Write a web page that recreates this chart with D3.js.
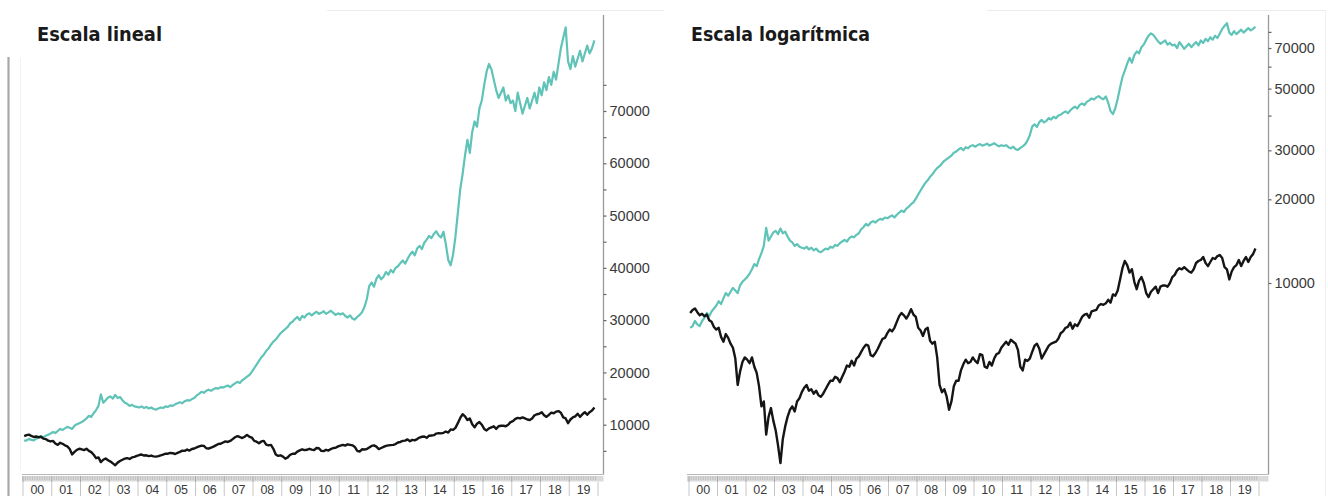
<!DOCTYPE html>
<html>
<head>
<meta charset="utf-8">
<script src="https://cdn.jsdelivr.net/npm/d3@7"></script>
<style>
  body { margin: 0; background: #fff; }
  svg { display: block; }
</style>
</head>
<body>
<svg id="chart" width="1328" height="496"></svg>
<script>
// Year labels along the bottom band
const yearLabels = ["00","01","02","03","04","05","06","07","08","09",
                    "10","11","12","13","14","15","16","17","18","19"];
const firstYear = 2000;

// Monthly closes, Jan 2000 – Nov 2019: price index (black)
const priceIndex = [
  7800, 8000, 8100, 7850, 7650, 7750, 7600, 7700, 7350, 7250, 6950, 6800,
  6900, 6400, 6150, 6550, 6350, 6050, 5850, 5350, 4300, 4800, 5200, 5400,
  5300, 5150, 5400, 5000, 4750, 4250, 3600, 3750, 2850, 3300, 3550, 3200,
  2950, 2600, 2250, 2750, 3050, 3300, 3500, 3600, 3450, 3750, 3850, 4050,
  4200, 4300, 4100, 4150, 4000, 4100, 3950, 3900, 4000, 4150, 4300, 4450,
  4450, 4600, 4550, 4400, 4600, 4800, 5050, 5000, 5250, 5050, 5350, 5450,
  5650, 5850, 6000, 5950, 5500, 5450, 5600, 5800, 6050, 6300, 6350, 6600,
  6800, 6700, 6900, 7250, 7600, 7800, 7650, 7450, 7700, 8050, 7700, 7550,
  6900, 6750, 6450, 6800, 6900, 6200, 6050, 6150, 5400, 4300, 4050, 4150,
  3900, 3500, 3750, 4250, 4450, 4450, 4850, 5100, 5300, 5150, 5200, 5400,
  5250, 5150, 5550, 5500, 5000, 4950, 5200, 5050, 5350, 5550, 5600, 5850,
  6000, 6150, 6000, 6250, 6150, 6050, 5750, 5000, 4850, 5300, 5250, 5350,
  5650, 5950, 6050, 5800, 5350, 5550, 5750, 5950, 6050, 6100, 6150, 6300,
  6600, 6700, 6900, 6950, 7200, 6850, 7100, 7000, 7250, 7550, 7700, 7750,
  7500, 7900, 7950, 8000, 8300, 8400, 8350, 8450, 8700, 8500, 9100, 9000,
  9400, 10300, 11300, 12000, 11600, 10900, 11200, 10100, 9500, 10200, 10500, 10000,
  9200, 8900, 9300, 9500, 9700, 9200, 9700, 9800, 9800, 9700, 10000, 10500,
  10700, 11100, 11300, 11200, 11400, 11200, 11000, 10900, 11200, 11800, 12000, 12100,
  12400, 11800, 11500, 11900, 12300, 12200, 12500, 12600, 12300, 11400, 11200, 10300,
  11000, 11400, 11600, 12100, 11500, 12000, 12400, 11900, 12400, 12700, 13300
];

// Monthly closes, Jan 2000 – Nov 2019: total return index (teal)
const totalReturnIndex = [
  6900, 7000, 7300, 7100, 7000, 7300, 7500, 7800, 7600, 7900, 8100, 8300,
  8600, 8400, 8800, 9200, 9000, 9300, 9600, 9400, 9200, 9800, 10100, 10300,
  10500, 10800, 11200, 11700, 11500, 12200, 12800, 13600, 15800, 14200, 14700, 15200,
  15400, 15000, 15700, 15100, 15300, 14700, 14200, 14000, 13600, 13800, 13500, 13400,
  13300, 13500, 13200, 13400, 13100, 13300, 13000, 12900, 13100, 13300, 13200, 13500,
  13400, 13700, 13600, 13900, 14100, 14300, 14100, 14500, 14700, 14600, 14900, 15100,
  15600, 15900, 16300, 16100, 16500, 16700, 16500, 16800, 17000, 16900, 17200, 17100,
  17300, 17500, 17200, 17600, 17900, 18200, 18000, 18500, 18800, 19200, 19500, 20100,
  20800, 21500, 22200, 22900, 23400, 24100, 24600, 25300, 25900, 26300, 26900, 27500,
  27900, 28300, 28700, 29400, 29700, 30200, 30600, 30000, 30800, 30500, 31100, 31300,
  30900, 31300, 31600, 31200, 31400, 31700, 31200, 31500, 31800, 31400, 31000, 31300,
  31100, 31300, 30800, 30500, 30900, 30300, 30100, 30600, 31000, 31500, 32500, 34000,
  36500, 37200, 36400, 37900, 38600, 37800, 38300, 39200, 38700, 39600, 39100, 40000,
  40300, 40900, 41400, 40800, 41700, 42500, 43100, 42400, 43700, 44200, 43600, 44800,
  45400, 46100, 45700, 46500, 47000, 46200, 45800, 46900, 44500, 41500, 40500, 42500,
  46000, 50500, 55000, 58000, 61500, 64500, 62000, 66000, 68000, 67000, 70500, 72000,
  75000, 77500, 79000, 78000, 76000, 74000, 72500, 73500, 74500, 72000, 73000, 71500,
  72000, 70000, 73500, 71500, 69500, 71000, 72500, 70500, 72000, 73500, 71500, 74500,
  73000, 75500, 74000, 76500, 75000, 77500, 76000, 79000, 82000, 84000, 86000, 79500,
  78000, 80500, 78500, 80000, 81500, 79500, 81000, 82500, 81000, 82000, 83500
];

// Axis tick values
const linearLabelTicks = [10000, 20000, 30000, 40000, 50000, 60000, 70000];
const linearMinorTicks = [5000, 15000, 25000, 35000, 45000, 55000, 65000, 75000];
const logLabelTicks = [10000, 20000, 30000, 50000, 70000];
const logMinorTicks = [40000, 60000, 80000];

const TEAL = "#5fc3b8";
const INK = "#151515";
const AXIS = "#9a9a9a";

const svg = d3.select("#chart");

// Decorative frame lines
const frame = svg.append("g");
frame.append("line").attr("x1", 327).attr("x2", 664).attr("y1", 10.5).attr("y2", 10.5)
  .attr("stroke", "#ececec");
frame.append("line").attr("x1", 987).attr("x2", 1325).attr("y1", 10.5).attr("y2", 10.5)
  .attr("stroke", "#ececec");
frame.append("line").attr("x1", 1325.5).attr("x2", 1325.5).attr("y1", 10).attr("y2", 496)
  .attr("stroke", "#f0f0f0");
frame.append("line").attr("x1", 8.5).attr("x2", 8.5).attr("y1", 57).attr("y2", 496)
  .attr("stroke", "#a8a8a8").attr("stroke-width", 2.2);
frame.append("line").attr("x1", 20.5).attr("x2", 20.5).attr("y1", 58).attr("y2", 470)
  .attr("stroke", "#f2f2f2");

const monthX = i => firstYear + (i + 0.5) / 12;

function drawPanel(cfg) {
  const g = svg.append("g");
  const x = d3.scaleLinear().domain([firstYear, firstYear + 20]).range(cfg.xRange);
  const y = cfg.y;

  // title
  g.append("text")
    .attr("x", cfg.titleX).attr("y", 41)
    .attr("font-family", "'DejaVu Sans Condensed', 'DejaVu Sans', sans-serif")
    .attr("font-stretch", "condensed")
    .attr("font-weight", "bold").attr("font-size", 20).attr("fill", "#1a1a1a")
    .attr("textLength", cfg.titleWidth).attr("lengthAdjust", "spacingAndGlyphs")
    .text(cfg.title);

  // plot box: right axis line and bottom line
  g.append("line").attr("x1", cfg.axisX).attr("x2", cfg.axisX).attr("y1", 15).attr("y2", 474.5)
    .attr("stroke", AXIS).attr("stroke-width", 1.3);
  g.append("line").attr("x1", cfg.bandX0).attr("x2", cfg.axisX).attr("y1", 474.5).attr("y2", 474.5)
    .attr("stroke", "#b8b8b8").attr("stroke-width", 1);

  // right axis through the scale
  const allTicks = cfg.labelTicks.concat(cfg.minorTicks);
  const axis = d3.axisRight(y).tickValues(allTicks).tickSize(3).tickPadding(3)
    .tickFormat(d => cfg.labelTicks.includes(d) ? String(d) : "");
  const ag = g.append("g").attr("transform", `translate(${cfg.axisX},0)`).call(axis);
  ag.select(".domain").remove();
  ag.selectAll(".tick line").attr("stroke", "#666").attr("stroke-width", 1.2);
  ag.selectAll(".tick text")
    .attr("font-family", "'Liberation Sans', Arial, sans-serif")
    .attr("font-size", 14.5).attr("fill", "#3a3a3a").attr("x", 6);

  // bottom time band with monthly hatch
  g.append("rect").attr("x", cfg.bandX0).attr("y", 476).attr("width", cfg.axisX - cfg.bandX0)
    .attr("height", 5.5).attr("fill", "#dadada");
  const months = d3.range(0, 240);
  g.append("g").selectAll("line").data(months).join("line")
    .attr("x1", d => x(firstYear + d / 12)).attr("x2", d => x(firstYear + d / 12))
    .attr("y1", 476).attr("y2", d => d % 12 === 0 ? 482 : 480)
    .attr("stroke", d => d % 12 === 0 ? "#9c9c9c" : "#b9b9b9").attr("stroke-width", 0.8);

  // year separators and labels
  const yrs = d3.range(0, 21);
  g.append("g").selectAll("line").data(yrs).join("line")
    .attr("x1", d => x(firstYear + d)).attr("x2", d => x(firstYear + d))
    .attr("y1", 482).attr("y2", 496)
    .attr("stroke", "#c6c6c6").attr("stroke-width", 1);
  g.append("g").selectAll("text").data(yearLabels).join("text")
    .attr("x", (d, i) => x(firstYear + i + 0.5)).attr("y", 493.5)
    .attr("text-anchor", "middle")
    .attr("font-family", "'Liberation Sans', Arial, sans-serif")
    .attr("font-size", 12.5).attr("fill", "#3a3a3a")
    .text(d => d);

  // series
  const line = d3.line().x((d, i) => x(monthX(i))).y(d => y(d));
  g.append("path").datum(totalReturnIndex).attr("d", line)
    .attr("fill", "none").attr("stroke", TEAL).attr("stroke-width", 2.2)
    .attr("stroke-linejoin", "round");
  g.append("path").datum(priceIndex).attr("d", line)
    .attr("fill", "none").attr("stroke", INK).attr("stroke-width", 2.4)
    .attr("stroke-linejoin", "round");
}

// Linear panel
drawPanel({
  title: "Escala lineal", titleX: 37, titleWidth: 125,
  xRange: [23, 598], axisX: 603.5, bandX0: 22,
  y: d3.scaleLinear().domain([0, 70000]).range([477, 111]),
  labelTicks: linearLabelTicks, minorTicks: linearMinorTicks
});

// Logarithmic panel
drawPanel({
  title: "Escala logarítmica", titleX: 691, titleWidth: 179,
  xRange: [689, 1259], axisX: 1268.5, bandX0: 687,
  y: d3.scaleLog().domain([10000, 70000]).range([283, 48]),
  labelTicks: logLabelTicks, minorTicks: logMinorTicks
});
</script>
</body>
</html>
